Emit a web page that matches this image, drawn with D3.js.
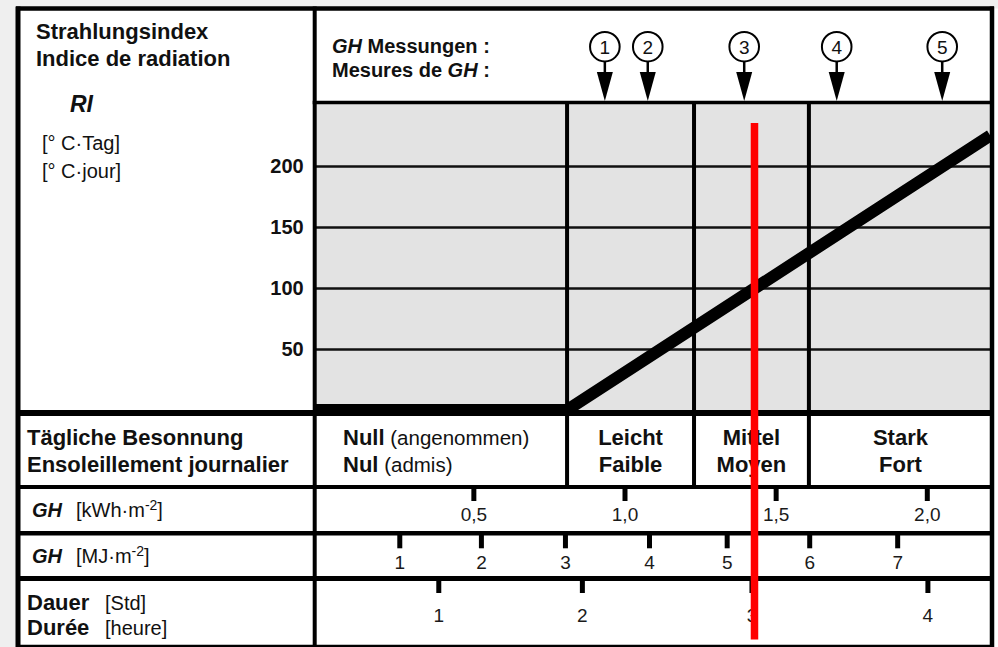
<!DOCTYPE html>
<html>
<head>
<meta charset="utf-8">
<script src="https://cdn.jsdelivr.net/npm/d3@7"></script>
<style>
  body { margin: 0; background: #efefef; }
  svg { display: block; font-family: "Liberation Sans", Arial, sans-serif; }
</style>
</head>
<body>
<div id="viz"></div>
<script>
// radiation index line: GH [kWh/m2] -> RI [°C·day]
const lineGH = [-0.03, 0.81, 2.21];
const lineRI = [0, 0, 225];
const riTicks = [50, 100, 150, 200];

// daily sunshine classes, bounds in GH [kWh/m2]
const catBounds = [0.81, 1.23, 1.61];
const catDe = ["Null", "Leicht", "Mittel", "Stark"];
const catFr = ["Nul", "Faible", "Moyen", "Fort"];
const catNoteDe = ["(angenommen)", "", "", ""];
const catNoteFr = ["(admis)", "", "", ""];

// GH measurements (numbered arrows)
const measureIds = [1, 2, 3, 4, 5];
const measureGH = [0.935, 1.077, 1.396, 1.702, 2.051];

// bottom scales, all placed on the GH kWh axis
const kwhTicks = [0.5, 1.0, 1.5, 2.0];
const mjTicks = [1, 2, 3, 4, 5, 6, 7];
const mjAtGH = [0.255, 0.525, 0.803, 1.081, 1.338, 1.611, 1.902];
const durTicks = [1, 2, 3, 4];
const durAtGH = [0.384, 0.859, 1.42, 2.002];

// red reading line
const markerGH = 1.43;

// layout
const width = 998, height = 647;
const frame = {left: 18, right: 992, top: 8.5, bottom: 647};
const colX = 314.7, headY = 102.5, plotBottom = 413;
const rowLines = [487, 533.3, 578.5];

const svg = d3.select("#viz").append("svg")
  .attr("width", width)
  .attr("height", height);

const x = d3.scaleLinear().domain([0, 2]).range([322.2, 926.8]);
const y = d3.scaleLinear().domain([0, 200]).range([410, 166]);

// paper
svg.append("rect")
  .attr("x", frame.left).attr("y", frame.top)
  .attr("width", width - frame.left).attr("height", height - frame.top)
  .attr("fill", "#fff");

// gray plot area
svg.append("rect")
  .attr("x", colX).attr("y", headY)
  .attr("width", frame.right - colX).attr("height", plotBottom - headY)
  .attr("fill", "#e3e3e3");

// y grid + labels
const yAxis = svg.append("g")
  .attr("transform", "translate(" + colX + ",0)")
  .call(d3.axisLeft(y).tickValues(riTicks).tickSize(-(frame.right - colX)).tickPadding(11));
yAxis.select(".domain").remove();
yAxis.attr("font-family", null).attr("font-size", 20).attr("font-weight", "bold");
yAxis.selectAll(".tick line").attr("stroke", "#111").attr("stroke-width", 2.5);
yAxis.selectAll(".tick text").attr("fill", "#111");

// class dividers (plot + class row)
svg.append("g").selectAll("line")
  .data(catBounds)
  .join("line")
  .attr("x1", d => x(d)).attr("x2", d => x(d))
  .attr("y1", headY).attr("y2", rowLines[0])
  .attr("stroke", "#000").attr("stroke-width", 4);

// RI line
svg.append("clipPath").attr("id", "plotclip")
  .append("rect")
  .attr("x", colX).attr("y", headY)
  .attr("width", frame.right - colX).attr("height", plotBottom - headY);

svg.append("path")
  .datum(lineGH.map((g, i) => ({gh: g, ri: lineRI[i]})))
  .attr("clip-path", "url(#plotclip)")
  .attr("fill", "none")
  .attr("stroke", "#000")
  .attr("stroke-width", 12)
  .attr("stroke-linejoin", "miter")
  .attr("d", d3.line().x(d => x(d.gh)).y(d => y(d.ri)));

// frame lines
const hLines = [
  [frame.left, frame.right, frame.top, 4.5],
  [colX, frame.right, headY, 3.5],
  [frame.left, frame.right, plotBottom, 6],
  [frame.left, frame.right, rowLines[0], 4],
  [frame.left, frame.right, rowLines[1], 4.5],
  [frame.left, frame.right, rowLines[2], 5],
  [frame.left, frame.right, frame.bottom, 4.5]
];
svg.append("g").selectAll("line")
  .data(hLines)
  .join("line")
  .attr("x1", d => d[0] - 2).attr("x2", d => d[1] + 2)
  .attr("y1", d => d[2]).attr("y2", d => d[2])
  .attr("stroke", "#000").attr("stroke-width", d => d[3]);

[[frame.left, 5], [colX, 4], [frame.right, 4.5]].forEach(v => {
  svg.append("line")
    .attr("x1", v[0]).attr("x2", v[0])
    .attr("y1", frame.top - 2).attr("y2", frame.bottom)
    .attr("stroke", "#000").attr("stroke-width", v[1]);
});

// measurement arrows
const arrows = svg.append("g").selectAll("g")
  .data(measureGH)
  .join("g")
  .attr("transform", d => "translate(" + x(d) + ",0)");
arrows.append("circle")
  .attr("cy", 46.7).attr("r", 14.8)
  .attr("fill", "#fff").attr("stroke", "#000").attr("stroke-width", 2);
arrows.append("text")
  .attr("y", 46.7).attr("dy", "0.36em")
  .attr("text-anchor", "middle")
  .attr("font-size", 19).attr("fill", "#111")
  .text((d, i) => measureIds[i]);
arrows.append("line")
  .attr("y1", 61).attr("y2", 73)
  .attr("stroke", "#000").attr("stroke-width", 2.5);
arrows.append("path")
  .attr("d", "M-8,72L8,72L0,101Z")
  .attr("fill", "#000");

// bottom tick rows
const fmtKwh = d => d3.format(".1f")(d).replace(".", ",");
function tickRow(values, labels, top, len, pad) {
  const g = svg.append("g")
    .attr("transform", "translate(0," + top + ")")
    .call(d3.axisBottom(x).tickValues(values).tickSize(len).tickPadding(pad)
      .tickFormat(d => labels[values.indexOf(d)]));
  g.select(".domain").remove();
  g.attr("font-family", null).attr("font-size", 19);
  g.selectAll(".tick line").attr("stroke", "#000").attr("stroke-width", 5);
  g.selectAll(".tick text").attr("fill", "#1a1a1a");
}
tickRow(kwhTicks, kwhTicks.map(fmtKwh), rowLines[0], 14, 6.3);
tickRow(mjAtGH, mjTicks, rowLines[1], 15, 7.5);
tickRow(durAtGH, durTicks, rowLines[2], 14.5, 15.3);

// texts
const txt = (xx, yy, size, weight) => svg.append("text")
  .attr("x", xx).attr("y", yy)
  .attr("font-size", size).attr("font-weight", weight || "normal")
  .attr("fill", "#111");

txt(36, 39, 22, "bold").text("Strahlungsindex");
txt(36, 66, 22, "bold").text("Indice de radiation");
txt(70, 112, 23, "bold").attr("font-style", "italic").text("RI");
txt(42, 150, 20).text("[° C·Tag]");
txt(42, 178, 20).text("[° C·jour]");

let t = txt(332, 53, 20, "bold");
t.append("tspan").attr("font-style", "italic").text("GH");
t.append("tspan").text(" Messungen :");
t = txt(332, 77, 20, "bold");
t.append("tspan").text("Mesures de ");
t.append("tspan").attr("font-style", "italic").text("GH");
t.append("tspan").text(" :");

txt(27, 445, 22, "bold").text("Tägliche Besonnung");
txt(27, 472, 22, "bold").text("Ensoleillement journalier");

// class labels
const catEdges = [x.invert(colX)].concat(catBounds, [x.invert(frame.right)]);
catDe.forEach((c, i) => {
  const [a, b] = [catEdges[i], catEdges[i + 1]];
  [[c, catNoteDe[i], 445], [catFr[i], catNoteFr[i], 472]].forEach(r => {
    const el = catNoteDe[i]
      ? txt(343, r[2], 22, "bold")
      : txt((x(a) + x(b)) / 2, r[2], 22, "bold").attr("text-anchor", "middle");
    el.append("tspan").text(r[0]);
    if (r[1]) el.append("tspan").attr("font-weight", "normal").attr("font-size", 20.5).text(" " + r[1]);
  });
});

// row labels
function unitLabel(yy, unit) {
  const el = txt(32, yy, 20, "bold");
  el.append("tspan").attr("font-style", "italic").text("GH");
  el.append("tspan").attr("x", 76).attr("font-weight", "normal").text("[" + unit + "·m");
  el.append("tspan").attr("font-weight", "normal").attr("font-size", 14).attr("dy", -7).text("-2");
  el.append("tspan").attr("font-weight", "normal").attr("dy", 7).text("]");
}
unitLabel(517, "kWh");
unitLabel(563, "MJ");

t = txt(27, 610, 22, "bold");
t.append("tspan").text("Dauer");
t.append("tspan").attr("x", 105).attr("font-weight", "normal").attr("font-size", 20).text("[Std]");
t = txt(27, 635, 22, "bold");
t.append("tspan").text("Durée");
t.append("tspan").attr("x", 105).attr("font-weight", "normal").attr("font-size", 20).text("[heure]");

// red reading line
svg.append("line")
  .attr("x1", x(markerGH)).attr("x2", x(markerGH))
  .attr("y1", 123).attr("y2", 639.5)
  .attr("stroke", "#ff0000").attr("stroke-width", 7.5);
</script>
</body>
</html>
